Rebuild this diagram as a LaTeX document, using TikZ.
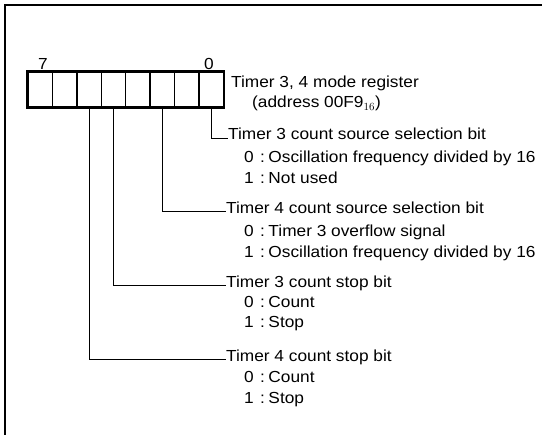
\documentclass[tikz,border=0pt]{standalone}
\usepackage{fontspec}
\setmainfont{Liberation Sans}[FakeStretch=1.08]
\begin{document}
\begin{tikzpicture}[x=1pt,y=-1pt,
  txt/.style={anchor=base west,inner sep=0pt,font=\fontsize{16}{18}\selectfont},
  bitnum/.style={anchor=base,inner sep=0pt,font=\fontsize{16}{18}\selectfont},
  cell/.style={draw,line width=1.4pt,minimum width=24.4pt,minimum height=35pt,inner sep=0pt},
  conn/.style={line width=0.7pt},
  frame/.style={line width=1.8pt}]
\useasboundingbox (0,0) rectangle (542,435);
% frame (top and left edges)
\coordinate (ftr) at (542,5);
\coordinate (ftl) at (5,5);
\coordinate (fbl) at (5,435);
\draw[frame] (ftr) -- (ftl) -- (fbl);
% register cells, c0 = bit 0 (rightmost)
\foreach \i in {0,...,7}{
  \node[cell] (c\i) at ({28+24.4*(7-\i)+12.2},89.5) {};
}
\draw[line width=2.2pt] (c7.north west) rectangle (c0.south east);
% bit numbers
\node[bitnum] (n7) at (43,70) {7};
\node[bitnum] (n0) at (209,70) {0};
% title
\node[txt] (title) at (231,87.5) {Timer 3, 4 mode register};
\node[txt] (addr) at (252,107.5) {(address 00F9$_{16}$)};
% block 1: bit 0
\node[txt] (h0) at (228,140) {Timer 3 count source selection bit};
\node[txt] (h0a) at (244,162.5) {\makebox[16pt][l]{0}:\hspace{3.5pt}Oscillation frequency divided by 16};
\node[txt] (h0b) at (244,183.5) {\makebox[16pt][l]{1}:\hspace{3.5pt}Not used};
\draw[conn] (c0.south) |- ([yshift=2pt]h0.base west);
% block 2: bit 2
\node[txt] (h2) at (226,213.5) {Timer 4 count source selection bit};
\node[txt] (h2a) at (244,236.5) {\makebox[16pt][l]{0}:\hspace{3.5pt}Timer 3 overflow signal};
\node[txt] (h2b) at (244,257.5) {\makebox[16pt][l]{1}:\hspace{3.5pt}Oscillation frequency divided by 16};
\draw[conn] (c2.south) |- ([yshift=2pt]h2.base west);
% block 3: bit 4
\node[txt] (h4) at (226,287.5) {Timer 3 count stop bit};
\node[txt] (h4a) at (244,307.5) {\makebox[16pt][l]{0}:\hspace{3.5pt}Count};
\node[txt] (h4b) at (244,328) {\makebox[16pt][l]{1}:\hspace{3.5pt}Stop};
\draw[conn] (c4.south) |- ([yshift=2pt]h4.base west);
% block 4: bit 5
\node[txt] (h5) at (226,361.5) {Timer 4 count stop bit};
\node[txt] (h5a) at (244,383) {\makebox[16pt][l]{0}:\hspace{3.5pt}Count};
\node[txt] (h5b) at (244,403.5) {\makebox[16pt][l]{1}:\hspace{3.5pt}Stop};
\draw[conn] (c5.south) |- ([yshift=2pt]h5.base west);
\end{tikzpicture}
\end{document}
